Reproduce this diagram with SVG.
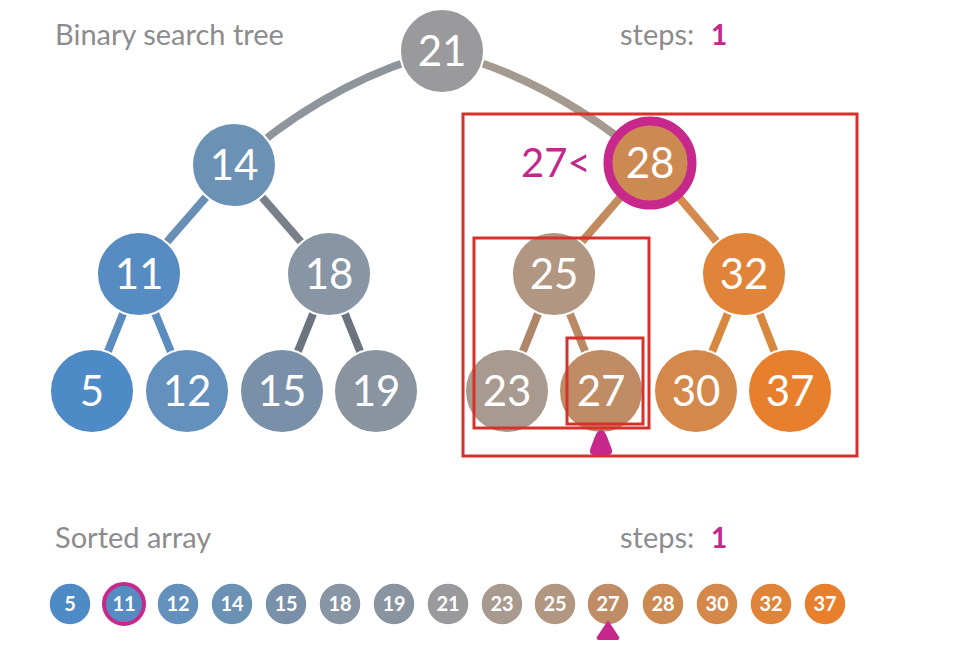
<svg xmlns="http://www.w3.org/2000/svg" width="980" height="662" viewBox="0 0 980 662">
<style>
.lbl{font-family:Lato,"Open Sans","DejaVu Sans",sans-serif;font-size:29px;fill:#8c8c8e}
.stp{font-family:Lato,"Open Sans","DejaVu Sans",sans-serif;font-size:28px;fill:#c2288a;font-weight:bold}
.n circle{stroke:#ffffff;stroke-width:2}
.n text{font-family:Lato,"Open Sans","DejaVu Sans",sans-serif;font-size:42px;fill:#ffffff;text-anchor:middle}
.a circle{stroke:#ffffff;stroke-width:1.5}
.a text{font-family:Lato,"Open Sans","DejaVu Sans",sans-serif;font-size:20px;font-weight:bold;fill:#ffffff;text-anchor:middle}
.e{fill:none;stroke-width:8;stroke-linecap:butt}
.box{fill:none;stroke:#d8302a;stroke-width:3}
</style>

<text class="lbl" x="55" y="45">Binary search tree</text>
<text class="lbl" x="620" y="45">steps:</text>
<text class="stp" x="711" y="45">1</text>

<g id="connectors">
<path class="e" d="M442,51 Q330,80 234,165" stroke="#8e959c"/>
<path class="e" d="M442,51 Q554,80 650,163" stroke="#a49a90"/>
<line class="e" x1="234" y1="165" x2="139" y2="274" stroke="#6a8fb6"/>
<line class="e" x1="234" y1="165" x2="329" y2="274" stroke="#7a808a"/>
<line class="e" x1="139" y1="274" x2="92" y2="391" stroke="#5a8cc0"/>
<line class="e" x1="139" y1="274" x2="187" y2="391" stroke="#5a8cc0"/>
<line class="e" x1="329" y1="274" x2="282" y2="391" stroke="#6c7480"/>
<line class="e" x1="329" y1="274" x2="376" y2="391" stroke="#6c7480"/>
<line class="e" x1="650" y1="163" x2="554" y2="274" stroke="#c38a5e"/>
<line class="e" x1="650" y1="163" x2="744" y2="274" stroke="#d48a4e"/>
<line class="e" x1="554" y1="274" x2="507" y2="391" stroke="#b0866a"/>
<line class="e" x1="554" y1="274" x2="601" y2="391" stroke="#b88a66"/>
<line class="e" x1="744" y1="274" x2="696" y2="391" stroke="#d8873f"/>
<line class="e" x1="744" y1="274" x2="790" y2="391" stroke="#d8873f"/>
</g>

<g id="node-21" class="n"><circle cx="442" cy="51" r="42" fill="#9a9a9c"/><text x="442" y="66">21</text></g>
<g id="node-14" class="n"><circle cx="234" cy="165" r="42" fill="#6b91b4"/><text x="234" y="180">14</text></g>
<g id="node-11" class="n"><circle cx="139" cy="274" r="42" fill="#578cc2"/><text x="139" y="289">11</text></g>
<g id="node-18" class="n"><circle cx="329" cy="274" r="42" fill="#8795a4"/><text x="329" y="289">18</text></g>
<g id="node-5" class="n"><circle cx="92" cy="391" r="42" fill="#4d8ac6"/><text x="92" y="406">5</text></g>
<g id="node-12" class="n"><circle cx="187" cy="391" r="42" fill="#6390bd"/><text x="187" y="406">12</text></g>
<g id="node-15" class="n"><circle cx="282" cy="391" r="42" fill="#7a90a8"/><text x="282" y="406">15</text></g>
<g id="node-19" class="n"><circle cx="376" cy="391" r="42" fill="#8a94a0"/><text x="376" y="406">19</text></g>
<g id="node-25" class="n"><circle cx="554" cy="274" r="42" fill="#b19682"/><text x="554" y="289">25</text></g>
<g id="node-32" class="n"><circle cx="744" cy="274" r="42" fill="#e0843a"/><text x="744" y="289">32</text></g>
<g id="node-23" class="n"><circle cx="507" cy="391" r="42" fill="#a89a8e"/><text x="507" y="406">23</text></g>
<g id="node-27" class="n"><circle cx="601" cy="391" r="42" fill="#bf8c66"/><text x="601" y="406">27</text></g>
<g id="node-30" class="n"><circle cx="696" cy="391" r="42" fill="#d4884a"/><text x="696" y="406">30</text></g>
<g id="node-37" class="n"><circle cx="790" cy="391" r="42" fill="#e87f2c"/><text x="790" y="406">37</text></g>
<g id="node-28" class="n"><circle cx="650" cy="163" r="42" fill="#cc8a52" style="stroke:#c8288c;stroke-width:9"/><text x="650" y="178">28</text></g>

<text x="521" y="177" style="font-family:Lato,'Open Sans','DejaVu Sans',sans-serif;font-size:40px;fill:#c2288a">27&lt;</text>

<rect class="box" x="463" y="114" width="394" height="342"/>
<rect class="box" x="474" y="238" width="175" height="190"/>
<rect class="box" x="567" y="338" width="76" height="86"/>
<path d="M601,430 C596,430 594,440 591,447 C589,452 590,455 594,455 L608,455 C612,455 613,452 611,447 C608,440 606,430 601,430 Z" fill="#c8288c"/>

<text class="lbl" x="55" y="548">Sorted array</text>
<text class="lbl" x="620" y="548">steps:</text>
<text class="stp" x="711" y="548">1</text>

<g id="arr-5" class="a"><circle cx="70" cy="604" r="21" fill="#4d8ac6"/><text x="70" y="611">5</text></g>
<g id="arr-11" class="a"><circle cx="124" cy="604" r="20" fill="#578cc2" style="stroke:#c8288c;stroke-width:4"/><text x="124" y="611">11</text></g>
<g id="arr-12" class="a"><circle cx="178" cy="604" r="21" fill="#6390bd"/><text x="178" y="611">12</text></g>
<g id="arr-14" class="a"><circle cx="232" cy="604" r="21" fill="#6b91b4"/><text x="232" y="611">14</text></g>
<g id="arr-15" class="a"><circle cx="286" cy="604" r="21" fill="#7a90a8"/><text x="286" y="611">15</text></g>
<g id="arr-18" class="a"><circle cx="340" cy="604" r="21" fill="#8795a4"/><text x="340" y="611">18</text></g>
<g id="arr-19" class="a"><circle cx="394" cy="604" r="21" fill="#8a94a0"/><text x="394" y="611">19</text></g>
<g id="arr-21" class="a"><circle cx="448" cy="604" r="21" fill="#9a9a9c"/><text x="448" y="611">21</text></g>
<g id="arr-23" class="a"><circle cx="502" cy="604" r="21" fill="#a89a8e"/><text x="502" y="611">23</text></g>
<g id="arr-25" class="a"><circle cx="555" cy="604" r="21" fill="#b19682"/><text x="555" y="611">25</text></g>
<g id="arr-27" class="a"><circle cx="608" cy="604" r="21" fill="#bf8c66"/><text x="608" y="611">27</text></g>
<g id="arr-28" class="a"><circle cx="663" cy="604" r="21" fill="#cc8a52"/><text x="663" y="611">28</text></g>
<g id="arr-30" class="a"><circle cx="717" cy="604" r="21" fill="#d4884a"/><text x="717" y="611">30</text></g>
<g id="arr-32" class="a"><circle cx="771" cy="604" r="21" fill="#e0843a"/><text x="771" y="611">32</text></g>
<g id="arr-37" class="a"><circle cx="825" cy="604" r="21" fill="#e87f2c"/><text x="825" y="611">37</text></g>
<path d="M608,622 L618,637 Q619,639 617,639 L599,639 Q597,639 598,637 Z" fill="#c8288c" stroke="#c8288c" stroke-width="2" stroke-linejoin="round"/>
</svg>
